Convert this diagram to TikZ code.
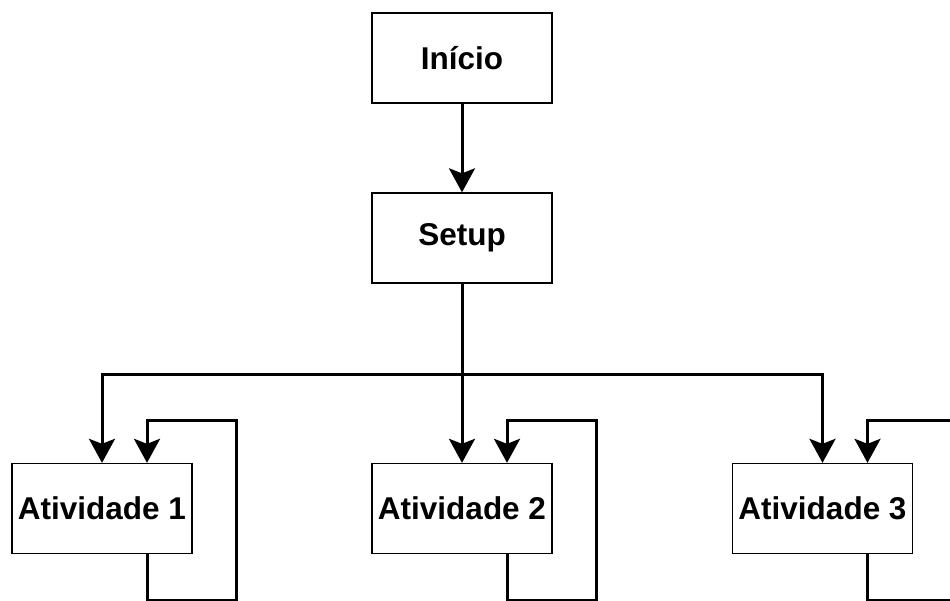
\documentclass[tikz,border=0pt]{standalone}
\usepackage{fontspec}
\setmainfont{Liberation Sans}
\usetikzlibrary{arrows.meta}
\tikzset{
  box/.style={draw=black, line width=1.3pt, fill=white, minimum width=180pt, minimum height=90pt, inner sep=0pt,
    font=\fontsize{31.5}{37}\selectfont\bfseries},
  conn/.style={line width=3pt, draw=black, -{Stealth[length=24pt,width=26pt,inset=5pt]}},
}
\begin{document}
\begin{tikzpicture}[x=1pt,y=-1pt]
\useasboundingbox (0,0) rectangle (950,601);
\fill[white] (0,0) rectangle (950,601);
\clip (0,0) rectangle (950,601);
\node[box] (ini) at (462,58) {Início};
\node[box] (setup) at (462,238) {Setup};
\node[box] (a1) at (102,508.5) {Atividade 1};
\node[box] (a2) at (462,508.5) {Atividade 2};
\node[box] (a3) at (822.5,508.5) {Atividade 3};
\coordinate (bus) at (462,374);
\draw[conn] (ini) -- (setup);
\draw[conn] (setup.south) -- (bus) -| (a1.north);
\draw[conn] (bus) -- (a2.north);
\draw[conn] (bus) -| (a3.north);
\foreach \a in {a1,a2,a3}{
  \draw[conn] ([xshift=45pt]\a.south) -- ++(0,46) -- ++(89,0) -- ++(0,-180) -- ++(-89,0) -- ([xshift=45pt]\a.north);
}
\end{tikzpicture}
\end{document}
